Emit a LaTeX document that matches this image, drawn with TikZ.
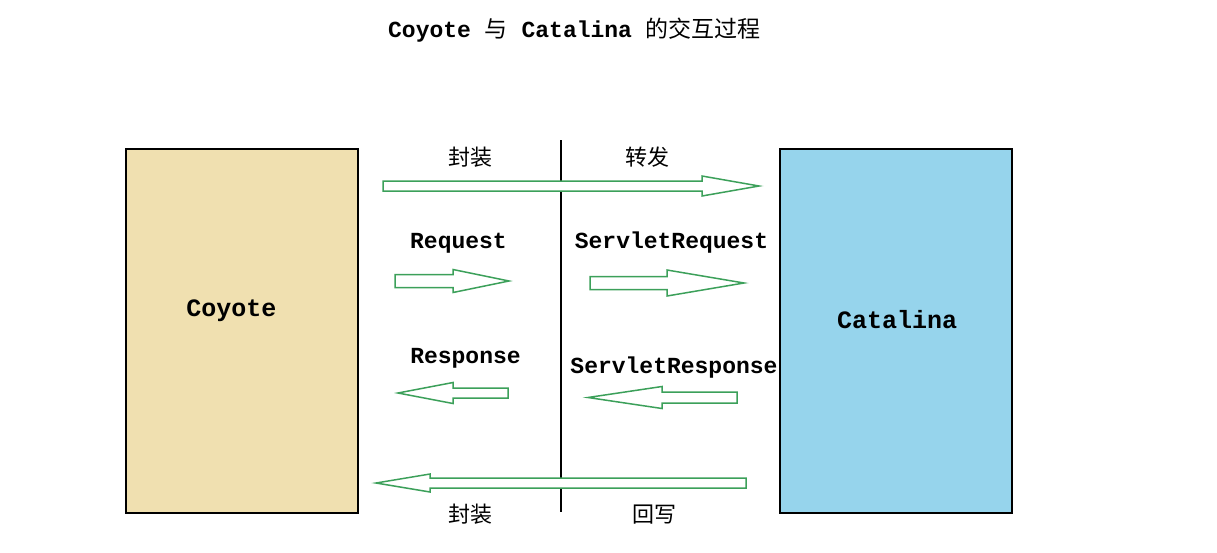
\documentclass[tikz,border=0pt]{standalone}
\usepackage{fontspec}
\setmonofont{Liberation Mono}
\newfontfamily\cjk{Noto Sans CJK SC}
\usetikzlibrary{positioning}
\definecolor{coyFill}{RGB}{240,224,176}
\definecolor{catFill}{RGB}{150,212,236}
\definecolor{arrGreen}{RGB}{60,160,90}
% block arrow: tail x, head base x, tip x, mid y, half shaft, half head
\newcommand{\garrow}[6]{%
  \draw[garr] (#1,#4-#5) -- (#2,#4-#5) -- (#2,#4-#6) -- (#3,#4)
    -- (#2,#4+#6) -- (#2,#4+#5) -- (#1,#4+#5) -- cycle;}

\begin{document}
\begin{tikzpicture}[
        x=1pt, y=-1pt,
        box/.style={rectangle, draw=black, line width=1.3pt, minimum width=232pt,
            minimum height=364pt, inner sep=0pt},
        mono/.style={font=\fontsize{23}{27}\selectfont\ttfamily\bfseries, inner sep=0pt, anchor=base},
        big/.style={font=\fontsize{25}{29}\selectfont\ttfamily\bfseries, inner sep=0pt, anchor=base},
        zh/.style={font=\fontsize{22}{26}\selectfont\cjk, inner sep=0pt, anchor=base},
        garr/.style={draw=arrGreen, fill=white, line width=1.5pt, line join=miter}
    ]
    \useasboundingbox[fill=white] (0,0) rectangle (1217,552);
    % title
    \node[mono] (title) at (574.5,37) {Coyote {\cjk\mdseries 与} Catalina {\cjk\mdseries 的交互过程}};
    % the two sides
    \node[box, fill=coyFill] (coyote) at (242,331) {};
    \node[box, fill=catFill] (catalina) at (896,331) {};
    \node[big] (coyotetxt) at (231.5,316) {Coyote};
    \node[big] (catalinatxt) at (897,328) {Catalina};
    % divider
    \coordinate (divtop) at (561,140);
    \coordinate (divbot) at (561,512);
    \draw[line width=1.2pt] (divtop) -- (divbot);
    % arrows
    \garrow{383}{702}{759}{186}{5}{10}
    \garrow{395}{453}{509}{281}{6.5}{11.5}
    \garrow{590}{667}{744}{283}{6.5}{13}
    \garrow{508}{453}{398}{393}{5}{10.5}
    \garrow{737}{662}{588}{397.5}{5.5}{11}
    \garrow{746}{430}{376}{483}{5}{9}
    % labels
    \node[zh] (wrapin) at (470,165) {封装};
    \node[zh] (fwd) at (647,165) {转发};
    \node[mono] (req) at (458.5,248) {Request};
    \node[mono] (sreq) at (671.5,248) {ServletRequest};
    \node[mono] (resp) at (465.5,363) {Response};
    \node[mono] (sresp) at (674,373) {ServletResponse};
    \node[zh] (wrapout) at (470,522) {封装};
    \node[zh] (writeback) at (654,522) {回写};
\end{tikzpicture}
\end{document}
